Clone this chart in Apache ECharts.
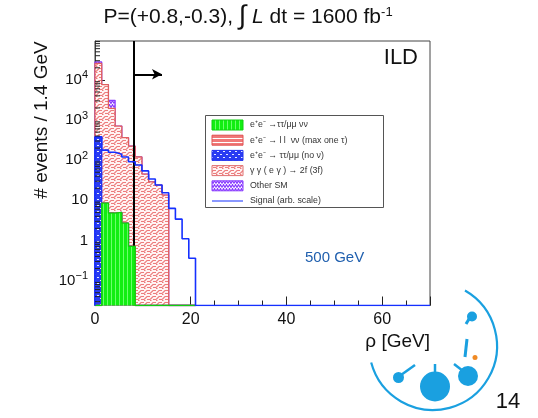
<!DOCTYPE html>
<html><head><meta charset="utf-8">
<script src="https://cdn.jsdelivr.net/npm/echarts@6/dist/echarts.min.js"></script>
<style>html,body{margin:0;padding:0;background:#fff}#c{width:538px;height:418px}</style>
</head><body><div id="c"></div>
<script>
// ---------------- data ----------------
const binWidth = 1.4;                      // GeV per bin
const xTickLabels = [0, 20, 40, 60];
const yTickExponents = [-1, 0, 1, 2, 3, 4];
const yMinorMultipliers = [2, 3, 4, 5, 6, 7, 8, 9];
const yMinorDecades = [0.01, 0.1, 1, 10, 100, 1000, 10000];
// components of the stacked background, per bin (events / 1.4 GeV)
const greenVals = [0, 8.5, 4.8, 5.0, 2.7, 0.71, 0, 0, 0, 0, 0, 0, 0, 0, 0];   // e+e- -> tt/mm vv
const llnnVals  = [0, 0, 0, 0, 0, 0, 0, 0, 0, 0, 0, 0, 0, 0, 0];              // e+e- -> ll vv (max one tau)
const noNuVals  = [380, 0, 0, 0, 0, 0, 0, 0, 0, 0, 0, 0, 0, 0, 0];            // e+e- -> tt/mm (no v)
const ggVals    = [25320, 7580, 1945, 703, 360, 223, 120, 44.7, 28.8, 24, 13.5, 0, 0, 0, 0]; // gg (eg) -> 2f (3f)
const otherVals = [2300, 0, 1140, 0, 0, 0, 0, 0, 0, 0, 0, 0, 0, 0, 0];        // Other SM
const signalVals = [380, 178, 158, 141, 120, 91, 76, 54, 34, 24, 15.5, 6.3, 3.4, 1.1, 0.36]; // Signal (arb. scale)
const nBinsAll = 50;
const cutValue = 8.0;
const arrowTo = 14.0;
const arrowLevel = 13800;
const legendNames = ['e\u207ae\u207b \u2192\u03c4\u03c4/\u03bc\u03bc \u03bd\u03bd',
  'e\u207ae\u207b \u2192 l l  \u03bd\u03bd (max one \u03c4)',
  'e\u207ae\u207b \u2192 \u03c4\u03c4/\u03bc\u03bc (no \u03bd)',
  '\u03b3 \u03b3 ( e \u03b3 ) \u2192 2f (3f)',
  'Other SM',
  'Signal (arb. scale)'];

const yMin = 0.024, yMax = 93000;
const xMin = 0, xMax = 70;

// ---------------- patterns ----------------
function makePattern(w, h, draw) {
  const c = document.createElement('canvas');
  c.width = w; c.height = h;
  const g = c.getContext('2d');
  draw(g, w, h);
  return { image: c, repeat: 'repeat' };
}
const patGreen = makePattern(4, 4, (g) => {
  g.fillStyle = '#12ee12'; g.fillRect(0, 0, 4, 4);
  g.fillStyle = '#6cff6c'; g.fillRect(3, 0, 1, 4);
});
const patLL = makePattern(4, 4, (g) => {
  g.fillStyle = '#f07878'; g.fillRect(0, 0, 4, 4);
  g.fillStyle = '#ffffff'; g.fillRect(0, 2, 4, 1);
});
const patBlue = makePattern(6, 6, (g) => {
  g.fillStyle = '#2a3cf2'; g.fillRect(0, 0, 6, 6);
  g.fillStyle = '#e8ecff'; g.fillRect(1, 1, 2, 1); g.fillRect(4, 4, 2, 1);
});
const patGG = makePattern(6, 6, (g) => {
  g.fillStyle = '#fff4f4'; g.fillRect(0, 0, 6, 6);
  g.strokeStyle = '#ec7c7c'; g.lineWidth = 1.1;
  g.beginPath(); g.moveTo(0, 5.5); g.lineTo(3, 2.5); g.lineTo(6, 2.5); g.stroke();
  g.beginPath(); g.moveTo(3, 5.5); g.lineTo(6, 5.5); g.stroke();
  g.beginPath(); g.moveTo(0, 0.5); g.lineTo(1.5, 0.5); g.stroke();
});
const patPurple = makePattern(6, 4, (g) => {
  g.fillStyle = '#ffffff'; g.fillRect(0, 0, 6, 4);
  g.strokeStyle = '#8a3cff'; g.lineWidth = 1.2;
  g.beginPath(); g.moveTo(0, 3.5); g.lineTo(1.5, 0.5); g.lineTo(3, 3.5); g.lineTo(4.5, 0.5); g.lineTo(6, 3.5); g.stroke();
});

// ---------------- helpers ----------------
function cumulative(list) {
  const n = list[0].length; const out = [];
  for (let i = 0; i < n; i++) { let s = 0; list.forEach(a => s += (a[i] || 0)); out.push(s); }
  return out;
}
function stepPoints(vals, nb) {
  const pts = [[0, yMin]];
  for (let i = 0; i < nb; i++) pts.push([i * binWidth, Math.max(vals[i] || 0, yMin)]);
  pts.push([nb * binWidth, Math.max(vals[nb - 1] || 0, yMin)]);
  pts.push([nb * binWidth, yMin]);
  return pts;
}
const layer1 = cumulative([greenVals]);
const layer2 = cumulative([greenVals, llnnVals]);
const layer3 = cumulative([greenVals, llnnVals, noNuVals]);
const layer4 = cumulative([greenVals, llnnVals, noNuVals, ggVals]);
const layer5 = cumulative([greenVals, llnnVals, noNuVals, ggVals, otherVals]);

const yMinorTicks = [];
yMinorDecades.forEach(d => yMinorMultipliers.forEach(m => {
  const v = d * m; if (v > yMin && v < yMax) yMinorTicks.push(v);
}));

function histSeries(name, vals, pattern, stroke, z) {
  return {
    name, type: 'line', step: 'end', symbol: 'none', z, silent: true,
    data: stepPoints(vals, vals.length),
    lineStyle: { color: stroke, width: 1.3 },
    areaStyle: { color: pattern, opacity: 1, origin: 'start' },
    animation: false
  };
}

const chart = echarts.init(document.getElementById('c'), null, { renderer: 'canvas' });
const FONT = '"Liberation Sans", Arial, Helvetica, sans-serif';

function yLabel(v) {
  const n = Math.round(Math.log10(v));
  if (n === 0) return '{b|1}';
  if (n === 1) return '{b|10}';
  return '{b|10}{s|' + (n < 0 ? '\u2212' + (-n) : n) + '}';
}

const legendRowY = [125, 140.2, 155.4, 170.6, 185.8, 201];
const legendPats = [patGreen, patLL, patBlue, patGG, patPurple];
const legendStrokes = ['#10d010', '#e05050', '#2030f0', '#e07070', '#8a3cff'];
const legendGraphics = [{
  type: 'rect', shape: { x: 205.5, y: 115.5, width: 178, height: 92 },
  style: { fill: '#fff', stroke: '#555', lineWidth: 1 }, z: 50
}];
legendNames.forEach((nm, i) => {
  if (i < 5) {
    legendGraphics.push({ type: 'rect', shape: { x: 212, y: legendRowY[i] - 5, width: 31, height: 10 },
      style: { fill: legendPats[i], stroke: legendStrokes[i], lineWidth: 1 }, z: 51 });
  } else {
    legendGraphics.push({ type: 'line', shape: { x1: 212, y1: legendRowY[i], x2: 243, y2: legendRowY[i] },
      style: { stroke: '#1530ff', lineWidth: 1 }, z: 51 });
  }
  legendGraphics.push({ type: 'text', x: 250, y: legendRowY[i], z: 51,
    style: { text: nm, font: '8.8px ' + FONT, fill: '#333', textVerticalAlign: 'middle' } });
});

const logo = [
  { type: 'arc', shape: { cx: 433, cy: 346, r: 64, startAngle: -Math.PI / 3, endAngle: Math.PI * 165 / 180 },
    style: { stroke: '#1aa0e0', lineWidth: 2.2, fill: null } },
  { type: 'circle', shape: { cx: 435, cy: 386.5, r: 15 }, style: { fill: '#1aa0e0' } },
  { type: 'line', shape: { x1: 435, y1: 364, x2: 435, y2: 376 }, style: { stroke: '#1aa0e0', lineWidth: 2.5 } },
  { type: 'circle', shape: { cx: 468, cy: 376, r: 10 }, style: { fill: '#1aa0e0' } },
  { type: 'line', shape: { x1: 454, y1: 364, x2: 463, y2: 371 }, style: { stroke: '#1aa0e0', lineWidth: 2.5 } },
  { type: 'circle', shape: { cx: 398.5, cy: 377.5, r: 5.5 }, style: { fill: '#1aa0e0' } },
  { type: 'line', shape: { x1: 401, y1: 375, x2: 415, y2: 365 }, style: { stroke: '#1aa0e0', lineWidth: 2.5 } },
  { type: 'circle', shape: { cx: 472, cy: 316.5, r: 5 }, style: { fill: '#1aa0e0' } },
  { type: 'line', shape: { x1: 469, y1: 319, x2: 466, y2: 324 }, style: { stroke: '#1aa0e0', lineWidth: 3 } },
  { type: 'line', shape: { x1: 467, y1: 339, x2: 465, y2: 357 }, style: { stroke: '#1aa0e0', lineWidth: 3 } },
  { type: 'circle', shape: { cx: 475, cy: 357.5, r: 2.5 }, style: { fill: '#f08a24' } },
  { type: 'text', x: 508, y: 402, style: { text: '14', font: '22px ' + FONT, fill: '#111', textAlign: 'center', textVerticalAlign: 'middle' } }
];

const option = {
  animation: false,
  backgroundColor: '#fff',
  grid: { left: 95, right: 108, top: 41, bottom: 112.5, show: true, borderColor: '#444', borderWidth: 1, containLabel: false },
  xAxis: {
    type: 'value', min: xMin, max: xMax, interval: 20,
    axisLine: { show: true, onZero: false, lineStyle: { color: '#444', width: 1 } },
    axisTick: { show: true, inside: true, length: 9, lineStyle: { color: '#222' } },
    minorTick: { show: true, splitNumber: 4, length: 5, lineStyle: { color: '#222' } },
    axisLabel: { color: '#111', fontSize: 16, fontFamily: FONT, margin: 6, showMaxLabel: false,
      formatter: v => (xTickLabels.indexOf(v) >= 0 ? String(v) : '') },
    splitLine: { show: false },
    name: '\u03c1 [GeV]', nameLocation: 'end', nameGap: 0,
    nameTextStyle: { fontSize: 19, fontFamily: FONT, color: '#111', align: 'right', verticalAlign: 'top', padding: [27, 0, 0, 0] }
  },
  yAxis: {
    type: 'log', logBase: 10, min: yMin, max: yMax,
    axisLine: { show: true, lineStyle: { color: '#444', width: 1 } },
    axisTick: { show: true, inside: true, length: 10, lineStyle: { color: '#222' } },
    axisLabel: {
      showMinLabel: false, showMaxLabel: false, margin: 7,
      formatter: v => { const n = Math.round(Math.log10(v)); return yTickExponents.indexOf(n) >= 0 ? yLabel(v) : ''; },
      rich: {
        b: { fontSize: 15, fontFamily: FONT, color: '#111' },
        s: { fontSize: 11, fontFamily: FONT, color: '#111', padding: [0, 0, 9, 0] }
      }
    },
    splitLine: { show: false }
  },
  series: [
    histSeries(legendNames[4], layer5, patPurple, '#8a3cff', 2),
    histSeries(legendNames[3], layer4, patGG, '#e06060', 3),
    histSeries(legendNames[2], layer3, patBlue, '#2030f0', 4),
    histSeries(legendNames[1], layer2, patLL, '#e05050', 5),
    histSeries(legendNames[0], layer1, patGreen, '#10d010', 6),
    {
      name: legendNames[5], type: 'line', step: 'end', symbol: 'none', z: 8, silent: true,
      data: stepPoints(signalVals, nBinsAll),
      lineStyle: { color: '#1530ff', width: 1.6 },
      markLine: {
        silent: true, symbol: ['none', 'none'], animation: false, label: { show: false },
        lineStyle: { color: '#000', width: 2, type: 'solid' },
        data: [{ xAxis: cutValue }]
      }
    },
    {
      name: 'cut', type: 'line', data: [], z: 9,
      markLine: {
        silent: true, symbol: ['none', 'arrow'], symbolSize: [8, 10], animation: false, label: { show: false },
        lineStyle: { color: '#000', width: 2, type: 'solid' },
        data: [[{ coord: [cutValue, arrowLevel] }, { coord: [arrowTo, arrowLevel] }]]
      }
    },
    {
      name: 'yMinorTicks', type: 'custom', z: 10, silent: true, clip: false,
      data: yMinorTicks.map(v => [xMin, v]),
      renderItem: (params, api) => {
        const p = api.coord([api.value(0), api.value(1)]);
        return { type: 'line', shape: { x1: p[0], y1: p[1], x2: p[0] + 5, y2: p[1] },
          style: { stroke: '#222', lineWidth: 1 } };
      }
    }
  ],
  graphic: [
    { type: 'text', x: 248, y: 17, style: {
        rich: {
          a: { font: '21px ' + FONT, fill: '#111' },
          i: { font: '27px ' + FONT, fill: '#111' },
          l: { font: 'italic 21px ' + FONT, fill: '#111' },
          s: { font: '13px ' + FONT, fill: '#111', padding: [0, 0, 10, 0] }
        },
        text: '{a|P=(+0.8,-0.3), }{i|\u222b}{a| }{l|L}{a| dt = 1600 fb}{s|-1}',
        textAlign: 'center', textVerticalAlign: 'middle' } },
    { type: 'text', x: 418, y: 58, style: { text: 'ILD', font: '22px ' + FONT, fill: '#111', textAlign: 'right', textVerticalAlign: 'middle' } },
    { type: 'text', x: 305, y: 258, style: { text: '500 GeV', font: '15px ' + FONT, fill: '#1f5fae', textAlign: 'left', textVerticalAlign: 'middle' } },
    { type: 'text', x: 42, y: 120, rotation: Math.PI / 2, style: { text: '# events / 1.4 GeV', font: '19px ' + FONT, fill: '#111', textAlign: 'center', textVerticalAlign: 'middle' } }
  ].concat(legendGraphics, logo)
};
chart.setOption(option);
</script>
</body></html>
